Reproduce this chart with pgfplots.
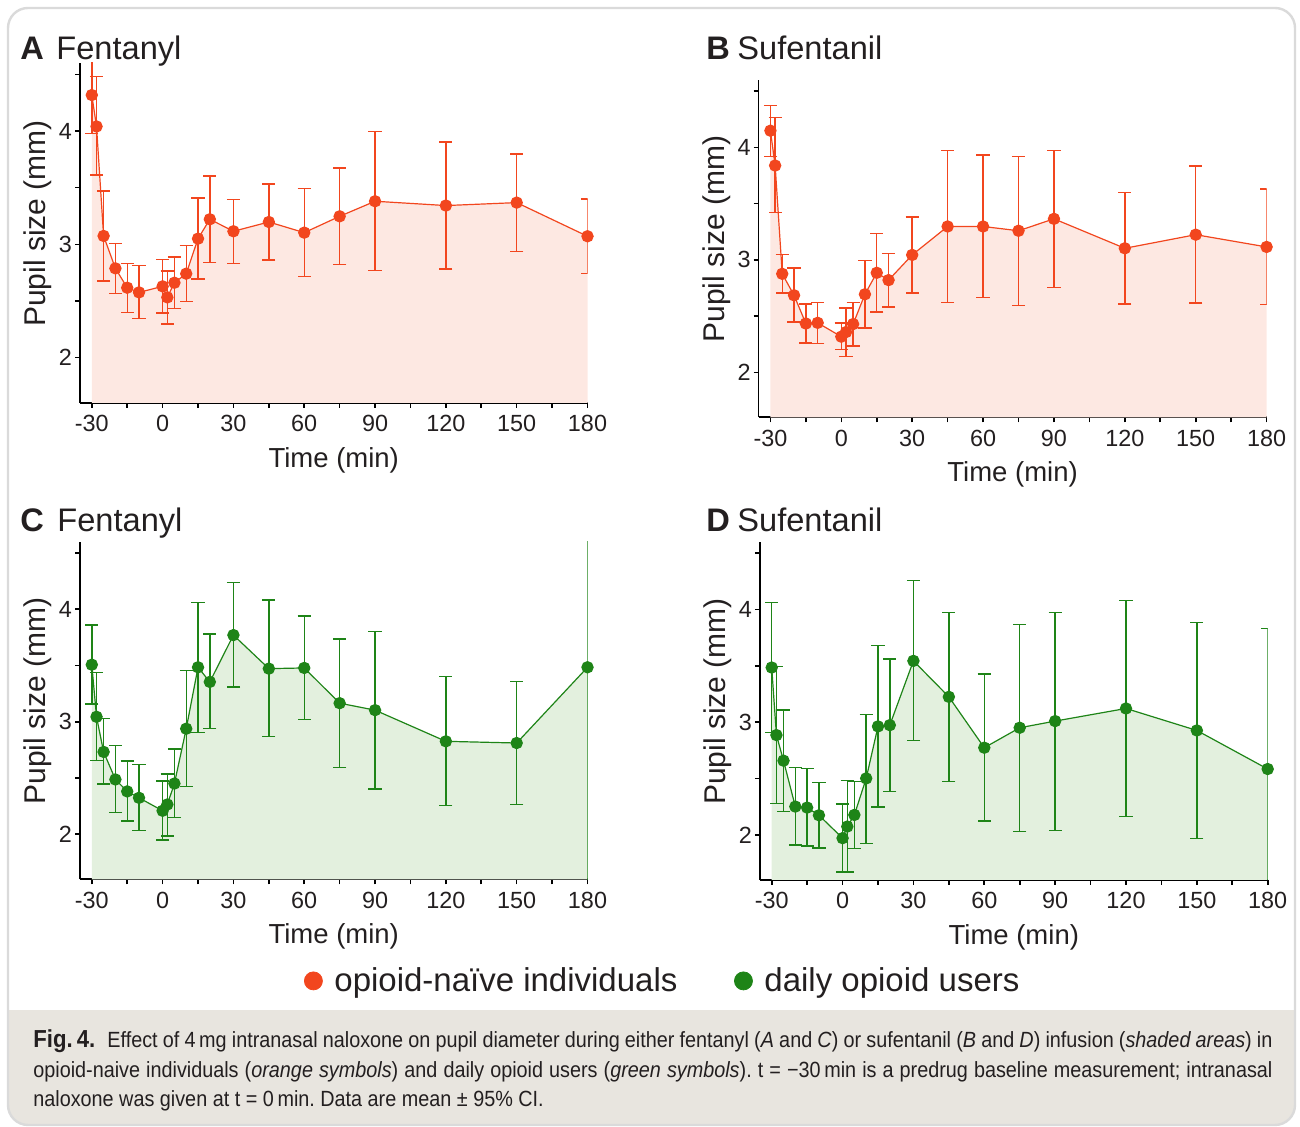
\documentclass[border=0pt]{standalone}
\usepackage{fontspec}
\setmainfont{Liberation Sans}
\newfontfamily\capfont[FakeStretch=0.9]{Liberation Sans}
\usepackage{pgfplots}
\usepackage{pgfplotstable}
\pgfplotsset{compat=1.18}
\definecolor{orng}{HTML}{F2461E}
\definecolor{grn}{HTML}{1E8417}
\definecolor{pinkfill}{HTML}{FDE8E2}
\definecolor{greenfill}{HTML}{E3F0DE}
\definecolor{capbg}{HTML}{E8E5DF}
\definecolor{framec}{HTML}{DADADA}
\definecolor{txt}{HTML}{231F20}

\pgfplotstableread{
t m hi lo
-30 4.317 4.66 3.98
-28 4.04 4.48 3.61
-25 3.074 3.47 2.676
-20 2.788 3.009 2.564
-15 2.617 2.832 2.396
-10 2.576 2.814 2.343
0 2.629 2.865 2.393
2 2.532 2.764 2.296
5 2.661 2.888 2.434
10 2.741 2.988 2.496
15 3.05 3.409 2.694
20 3.221 3.604 2.841
30 3.115 3.398 2.829
45 3.197 3.533 2.862
60 3.103 3.492 2.714
75 3.247 3.675 2.82
90 3.38 3.996 2.77
120 3.342 3.904 2.782
150 3.368 3.798 2.938
180 3.071 3.40 2.744
}\dataA

\pgfplotstableread{
t m hi lo
-30 4.149 4.373 3.922
-28 3.839 4.264 3.421
-25 2.876 3.05 2.705
-20 2.685 2.929 2.446
-15 2.434 2.608 2.261
-10 2.44 2.623 2.258
0 2.317 2.44 2.205
2 2.358 2.573 2.143
5 2.429 2.623 2.234
10 2.694 2.994 2.393
15 2.885 3.236 2.535
20 2.82 3.056 2.582
30 3.044 3.383 2.705
45 3.297 3.972 2.623
60 3.297 3.934 2.664
75 3.259 3.922 2.594
90 3.365 3.975 2.756
120 3.103 3.598 2.608
150 3.224 3.834 2.617
180 3.115 3.63 2.602
}\dataB

\pgfplotstableread{
t m hi lo
-30 3.507 3.858 3.159
-28 3.044 3.44 2.658
-25 2.732 3.027 2.445
-20 2.487 2.788 2.195
-15 2.381 2.652 2.118
-10 2.324 2.622 2.035
0 2.209 2.475 1.95
2 2.265 2.537 1.985
5 2.451 2.758 2.15
10 2.938 3.454 2.425
15 3.484 4.059 2.906
20 3.354 3.779 2.941
30 3.77 4.236 3.307
45 3.472 4.083 2.87
60 3.478 3.941 3.018
75 3.165 3.735 2.596
90 3.103 3.802 2.404
120 2.826 3.404 2.254
150 2.811 3.357 2.265
180 3.484 5.5 1.4
}\dataC

\pgfplotstableread{
t m hi lo
-30 3.484 4.059 2.906
-28 2.885 3.493 2.28
-25 2.658 3.106 2.209
-20 2.251 2.599 1.909
-15 2.242 2.59 1.9
-10 2.174 2.463 1.885
0 1.971 2.274 1.67
2 2.074 2.481 1.67
5 2.177 2.472 1.879
10 2.501 3.068 1.926
15 2.962 3.678 2.248
20 2.973 3.56 2.383
30 3.543 4.257 2.838
45 3.224 3.973 2.472
60 2.773 3.425 2.124
75 2.95 3.864 2.032
90 3.009 3.97 2.041
120 3.121 4.08 2.165
150 2.926 3.882 1.968
180 2.584 3.832 1.3
}\dataD

\pgfplotsset{
  panel/.style={
    scale only axis,
    anchor=south west,
    axis lines*=left,
    axis line style={-, line width=0.8pt, black},
    xmin=-35, xmax=180, ymin=1.6, ymax=4.6,
    xtick={-30,0,30,60,90,120,150,180},
    minor xtick={-15,15,45,75,105,135,165},
    ytick={2,3,4},
    minor ytick={2.5,3.5,4.5},
    tick align=outside,
    major tick length=2.5pt, minor tick length=2.5pt,
    every tick/.style={line width=0.8pt, black},
    every minor tick/.style={line width=0.8pt, black},
    /pgf/number format/assume math mode=true,
    ticklabel style={font=\fontsize{11.7}{13}\selectfont, text=txt},
    xticklabel style={inner sep=3.5pt},
    yticklabel style={inner sep=1.3pt},
    xlabel={Time (min)},
    ylabel={Pupil size (mm)},
    xlabel style={font=\fontsize{13.75}{15}\selectfont, text=txt, at={(axis description cs:0.5,-0.17)}, anchor=center},
    ylabel style={font=\fontsize{15}{16}\selectfont, text=txt, at={(axis description cs:-0.0828,0.528)}, anchor=center},
  },
  fillp/.style={draw=none, fill=#1, forget plot},
  serp/.style={color=#1, line width=0.6pt, mark=*, mark size=2.8pt,
    mark options={solid, fill=#1, draw=#1}, forget plot},
  errp/.style={error bars/.cd, y dir=both, y explicit,
    error bar style={line width=0.7pt, #1},
    error mark options={rotate=90, mark size=3.3pt, line width=0.7pt, #1}},
}

\newcommand{\series}[3]{%
  \addplot[fillp=#3] table[x=t, y=m] {#1} \closedcycle;
  \addplot[serp=#2, errp=#2] table[x=t, y=m,
    y error plus expr=\thisrow{hi}-\thisrow{m},
    y error minus expr=\thisrow{m}-\thisrow{lo}] {#1};
}

\begin{document}
\frenchspacing
\begin{tikzpicture}
\useasboundingbox (0,0) rectangle (650pt,563.5pt);
% frame and caption background
\begin{scope}
\clip[rounded corners=10pt] (4pt,1pt) rectangle (647.5pt,559.5pt);
\fill[capbg] (0,0) rectangle (650pt,58.5pt);
\end{scope}
\draw[framec, line width=1.2pt, rounded corners=10pt] (4pt,1pt) rectangle (647.5pt,559.5pt);

% Panel A
\begin{axis}[panel, at={(40pt,362pt)}, width=253.75pt, height=170pt]
\series{\dataA}{orng}{pinkfill}
\end{axis}
% Panel B
\begin{axis}[panel, at={(379.3pt,354.85pt)}, width=254pt, height=168.65pt]
\series{\dataB}{orng}{pinkfill}
\end{axis}
% Panel C
\begin{axis}[panel, at={(40pt,123.85pt)}, width=253.75pt, height=168.8pt,
  legend style={at={(axis description cs:0.4414,-0.301)}, anchor=west,
    draw=none, fill=none, inner sep=0pt, legend columns=2,
    font=\fontsize{16.5}{18}\selectfont, text=txt,
    nodes={inner sep=1.5pt},
    /tikz/every odd column/.append style={column sep=4.5pt},
    /tikz/every even column/.append style={column sep=27pt}},
  legend image code/.code={\draw[#1] plot coordinates {(0pt,0pt)};}]
\series{\dataC}{grn}{greenfill}
\addlegendimage{only marks, mark=*, mark size=4.5pt, color=orng, mark options={fill=orng, draw=orng}}
\addlegendentry{opioid-naïve individuals}
\addlegendimage{only marks, mark=*, mark size=4.5pt, color=grn, mark options={fill=grn, draw=grn}}
\addlegendentry{daily opioid users}
\end{axis}
% Panel D
\begin{axis}[panel, at={(379.95pt,123.5pt)}, width=253.9pt, height=169.15pt]
\series{\dataD}{grn}{greenfill}
\end{axis}

% Titles
\begin{scope}[every node/.style={anchor=base west, inner sep=0pt, text=txt}]
\node[font=\fontsize{16.3}{18}\selectfont\bfseries] at (10pt,533.5pt) {A};
\node[font=\fontsize{16.3}{18}\selectfont] at (28pt,533.5pt) {Fentanyl};
\node[font=\fontsize{16.3}{18}\selectfont\bfseries] at (353pt,533.5pt) {B};
\node[font=\fontsize{16.3}{18}\selectfont] at (368.5pt,533.5pt) {Sufentanil};
\node[font=\fontsize{16.3}{18}\selectfont\bfseries] at (10pt,297.65pt) {C};
\node[font=\fontsize{16.3}{18}\selectfont] at (28.5pt,297.65pt) {Fentanyl};
\node[font=\fontsize{16.3}{18}\selectfont\bfseries] at (353pt,297.65pt) {D};
\node[font=\fontsize{16.3}{18}\selectfont] at (368.5pt,297.65pt) {Sufentanil};
\end{scope}

% Caption
\begin{scope}[every node/.style={anchor=base west, inner sep=0pt, text=txt, font=\capfont\fontsize{11}{14}\selectfont}]
\node at (16.5pt,39.85pt) {\hbox to 619.5pt{{\fontsize{12.3}{14}\selectfont\bfseries Fig.\,4.}\hspace{0.55em}Effect of 4\,mg intranasal naloxone on pupil diameter during either fentanyl (\textit{A} and \textit{C}) or sufentanil (\textit{B} and \textit{D}) infusion (\textit{shaded areas}) in}};
\node at (16.5pt,24.65pt) {\hbox to 619.5pt{opioid-naive individuals (\textit{orange symbols}) and daily opioid users (\textit{green symbols}). t = −30\,min is a predrug baseline measurement; intranasal}};
\node at (16.5pt,10.15pt) {naloxone was given at t = 0\,min. Data are mean ± 95\% CI.};
\end{scope}
\end{tikzpicture}
\end{document}
